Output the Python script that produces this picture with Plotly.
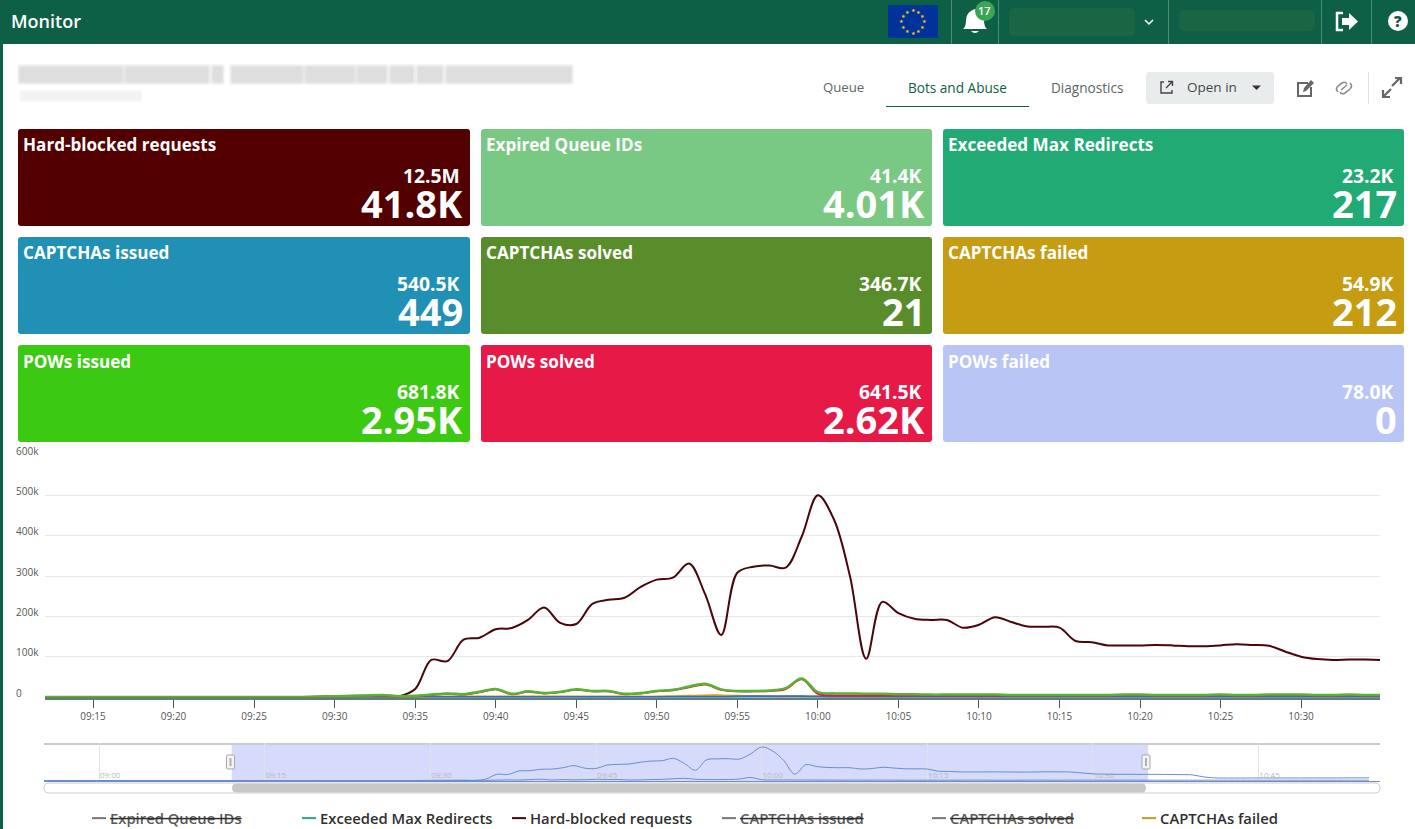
import re, math
import plotly.graph_objects as go

W, H = 1415, 829
DAY = "2024-01-01 "

# ---------- chart data (thousands) ----------
times = ["08:55", "09:20", "09:28",
         "09:30", "09:31", "09:32", "09:33", "09:34", "09:35", "09:36", "09:37", "09:38", "09:39",
         "09:40", "09:41", "09:42", "09:43", "09:44", "09:45", "09:46", "09:47", "09:48", "09:49",
         "09:50", "09:51", "09:52", "09:53", "09:54", "09:55", "09:56", "09:57", "09:58", "09:59",
         "10:00", "10:01", "10:02", "10:03", "10:04", "10:05", "10:06", "10:07", "10:08", "10:09",
         "10:10", "10:11", "10:12", "10:13", "10:14", "10:15", "10:16", "10:17", "10:18", "10:19",
         "10:20", "10:21", "10:22", "10:23", "10:24", "10:25", "10:26", "10:27", "10:28", "10:29",
         "10:30", "10:31", "10:32", "10:33", "10:34", "10:35",
         "10:36", "10:38", "10:39", "10:40", "10:41", "10:45", "10:50", "10:55"]
hard_blocked = [0, 0, 0,
                1, 1, 1, 1, 2, 20, 92, 89, 142, 147,
                168, 171, 191, 222, 184, 181, 231, 241, 246, 273,
                291, 296, 331, 255, 154, 308, 323, 326, 321, 398,
                500, 440, 298, 95, 236, 208, 194, 191, 191, 172,
                179, 198, 186, 175, 174, 172, 139, 136, 128, 128,
                128, 129, 128, 126, 126, 128, 131, 129, 127, 113,
                100, 94, 92, 93, 93, 92,
                92, 88, 84, 55, 40, 38, 38, 40]
pows_issued = [0, 0, 0,
               2, 3, 4, 5, 2, 3, 6, 9, 7, 13,
               20, 8, 14, 10, 13, 19, 15, 15, 8, 10,
               15, 18, 26, 33, 19, 15, 15, 16, 22, 46,
               12, 9, 9, 8, 8, 7, 7, 6, 6, 6,
               6, 6, 5, 5, 5, 5, 5, 5, 5, 6,
               6, 5, 5, 5, 5, 6, 5, 5, 6, 6,
               6, 5, 5, 6, 5, 5,
               5, 5, 5, 5, 5, 5, 5, 5]
pows_solved = [0, 0, 0,
               1, 2, 3, 4, 1, 2, 5, 8, 6, 12,
               19, 7, 13, 9, 12, 18, 14, 14, 7, 9,
               14, 17, 24, 31, 18, 14, 14, 15, 20, 44,
               8, 4, 4, 4, 4, 4, 4, 4, 4, 4,
               4, 4, 4, 4, 4, 4, 4, 4, 4, 5,
               5, 4, 4, 4, 4, 5, 4, 4, 5, 5,
               5, 4, 4, 5, 4, 4,
               4, 4, 4, 4, 4, 4, 4, 4]
captchas_failed = [0, 0, 0,
                   0, 0, 0, 0, 0, 0, 1, 1, 1, 1,
                   1, 1, 1, 1, 1, 1, 1, 1, 1, 1,
                   1, 2, 3, 4, 4, 3, 2, 1, 1, 1,
                   1, 1, 1, 1, 1, 1, 1, 1, 1, 1,
                   1, 1, 1, 1, 1, 1, 1, 1, 1, 1,
                   1, 1, 1, 1, 1, 1, 1, 1, 1, 1,
                   1, 1, 1, 1, 1, 1,
                   1, 1, 1, 1, 1, 1, 1, 1]
pows_failed = [0, 0, 0,
               0, 0, 0, 0, 0, 0, 0, 0, 0, 0,
               0, 0, 0, 0, 0, 0, 0, 0, 0, 0,
               0, 0, 0, 0, 0, 1, 2, 2, 2, 2,
               1, 0, 0, 0, 0, 0, 0, 0, 0, 0,
               0, 0, 0, 0, 0, 0, 0, 0, 0, 0,
               0, 0, 0, 0, 0, 0, 0, 0, 0, 0,
               0, 0, 0, 0, 0, 0,
               0, 0, 0, 0, 0, 0, 0, 0]

y_tick_values = [0, 100, 200, 300, 400, 500, 600]
y_tick_labels = ["0", "100k", "200k", "300k", "400k", "500k", "600k"]

# ---------- summary cards ----------
card_titles = ["Hard-blocked requests", "Expired Queue IDs", "Exceeded Max Redirects",
               "CAPTCHAs issued", "CAPTCHAs solved", "CAPTCHAs failed",
               "POWs issued", "POWs solved", "POWs failed"]
card_totals = ["12.5M", "41.4K", "23.2K", "540.5K", "346.7K", "54.9K", "681.8K", "641.5K", "78.0K"]
card_latest = ["41.8K", "4.01K", "217", "449", "21", "212", "2.95K", "2.62K", "0"]
card_colors = ["#530000", "#79c883", "#21aa74", "#2090b5", "#598d2b", "#c69c12",
               "#3bc912", "#e61947", "#b8c5f5"]

FONT = "Open Sans"
GREEN = "#0d5f45"


def px(x):
    return x / W


def py(y):
    return 1 - y / H


def path(d):
    parts = re.findall(r"[MLQCZ]|-?\d+\.?\d*", d)
    out, isx = [], True
    for t in parts:
        if t in "MLQCZ":
            out.append(t)
        else:
            v = float(t)
            out.append(f"{px(v) if isx else py(v):.5f}")
            isx = not isx
    return " ".join(out)


shapes, notes = [], []


def add_path(d, fill="rgba(0,0,0,0)", line=None, width=0, layer="below"):
    shapes.append(dict(type="path", xref="paper", yref="paper", path=path(d), fillcolor=fill,
                       line=dict(color=line or "rgba(0,0,0,0)", width=width), layer=layer))


def rrect(x0, y0, x1, y1, r, fill, line=None, width=0, layer="below"):
    add_path(f"M{x0+r} {y0} L{x1-r} {y0} Q{x1} {y0} {x1} {y0+r} L{x1} {y1-r} Q{x1} {y1} {x1-r} {y1} "
             f"L{x0+r} {y1} Q{x0} {y1} {x0} {y1-r} L{x0} {y0+r} Q{x0} {y0} {x0+r} {y0} Z",
             fill, line, width, layer)


def rect(x0, y0, x1, y1, fill, layer="below"):
    shapes.append(dict(type="rect", xref="paper", yref="paper", x0=px(x0), x1=px(x1), y0=py(y1), y1=py(y0),
                       fillcolor=fill, line=dict(width=0), layer=layer))


def circle(cx, cy, r, fill, layer="above"):
    shapes.append(dict(type="circle", xref="paper", yref="paper", x0=px(cx-r), x1=px(cx+r), y0=py(cy+r),
                       y1=py(cy-r), fillcolor=fill, line=dict(width=0), layer=layer))


def text(x, y, s, size, color, anchor="left", weight=400, family=FONT):
    notes.append(dict(xref="paper", yref="paper", x=px(x), y=py(y), text=s, showarrow=False,
                      xanchor=anchor, yanchor="middle", align=anchor,
                      font=dict(family=family, size=size, color=color, weight=weight),
                      borderpad=0, borderwidth=0))


# header
rect(0, 0, W, 44, GREEN)
rect(0, 44, 3, H, GREEN)
text(11, 21, "Monitor", 18, "#ffffff", weight=600)
rect(888, 5, 938, 38, "#003399")
for i in range(12):
    a = math.pi * 2 * i / 12
    text(913 + 11.5 * math.cos(a), 21.5 + 11.5 * math.sin(a), "★", 5, "#ffcc00", anchor="center", family="DejaVu Sans")
for x in (951, 998, 1168, 1321, 1371):
    rect(x, 0, x + 1, 44, "rgba(255,255,255,0.28)")
add_path("M975 9 Q966 12 966 20 Q966 27 963 29 L987 29 Q984 27 984 20 Q984 12 975 9 Z M971 31 L979 31 Q975 35 971 31 Z",
         "#ffffff", layer="above")
circle(985, 11, 10, "#3aa655")
text(985, 11, "17", 11, "#ffffff", anchor="center", weight=600)
rrect(1009, 8, 1135, 36, 6, "#1a6543")
add_path("M1145 20 L1149 24 L1153 20", line="#ffffff", width=1.5)
rrect(1179, 10, 1315, 31, 6, "#1a6543")
add_path("M1343 13 L1337 13 L1337 30 L1343 30", line="#ffffff", width=2.5)
add_path("M1342 18 L1349 18 L1349 13 L1358 21.5 L1349 30 L1349 25 L1342 25 Z", "#ffffff")
circle(1398, 21, 10, "#ffffff")
text(1398, 21, "?", 15, GREEN, anchor="center", weight=800)

# blurred page title: soft word-shaped smudges
for a, b in ((20, 122), (126, 208), (213, 222), (232, 302), (306, 354), (358, 386), (391, 413), (418, 442), (447, 571)):
    for i in range(4):
        rrect(a - i, 67 - i, b + i, 82 + i, 3, "rgba(150,150,150,0.085)")
for i in range(3):
    rrect(21 - i, 92 - i, 141 + i, 100 + i, 3, "rgba(170,170,170,0.05)")

# tabs
text(844, 87, "Queue", 13.2, "#5d6664", anchor="center", weight=500)
text(957.5, 87, "Bots and Abuse", 13.6, GREEN, anchor="center", weight=500)
rect(886, 106, 1029, 107, GREEN)
text(1087.5, 87, "Diagnostics", 13.6, "#5d6664", anchor="center", weight=500)
rrect(1146, 72, 1274, 104, 3, "#e9ecec")
add_path("M1164 82 L1161 82 L1161 93 L1172 93 L1172 90", line="#444", width=1.4)
add_path("M1166 88 L1172 82 M1168 81.5 L1172.5 81.5 L1172.5 86", line="#444", width=1.4)
text(1212, 87, "Open in", 13.5, "#3f4a47", anchor="center", weight=500)
add_path("M1252 85.5 L1261 85.5 L1256.5 90 Z", "#333")
add_path("M1308 83 L1298 83 L1298 96 L1311 96 L1311 87", line="#666", width=2)
add_path("M1303 92 L1304 88 L1311 80 L1314 83 L1306 91 Z", "#666")
add_path("M1338 92 Q1335 89 1338 86 L1342 83 Q1345 81 1347 84 M1350 83 Q1353 86 1350 89 L1345 93 Q1342 95 1340 92",
         line="#8a8f8e", width=1.6)
add_path("M1341 90 L1347 85", line="#8a8f8e", width=1.6)
rect(1368, 72, 1369, 104, "#e2e4e4")
add_path("M1392 86 L1400 78 M1395 78 L1401 78 L1401 84", line="#666", width=2.2)
add_path("M1391 89 L1384 96 M1383 90 L1383 97 L1390 97", line="#666", width=2.2)

# cards
cols = [(18, 470), (481, 932), (943, 1404)]
rows = [(129, 226), (237, 334), (345, 442)]
for i, title in enumerate(card_titles):
    x0, x1 = cols[i % 3]
    y0, y1 = rows[i // 3]
    rrect(x0, y0, x1, y1, 3, card_colors[i])
    text(x0 + 5, y0 + 16, title, 17.1, "#ffffff", weight=700)
    text(x1 - 10, y0 + 46, card_totals[i], 19.3, "#ffffff", anchor="right", weight=700)
    text(x1 - 7, y0 + 74, card_latest[i], 38, "#ffffff", anchor="right", weight=700)

# navigator decoration
selection_start, selection_end = DAY + "09:12", DAY + "10:35"
shapes.append(dict(type="rect", xref="x2", yref="paper", x0=selection_start, x1=selection_end,
                   y0=py(781), y1=py(744), fillcolor="rgba(102,120,240,0.27)", line=dict(width=0), layer="below"))
rect(44, 743, 1380, 745, "#cccccc")
rrect(44, 783, 1380, 793, 5, "#ffffff", "#cccccc", 1)
rrect(232, 783.5, 1146, 792.5, 4.5, "#c8c8c8")
for x in (230.5, 1146):
    rrect(x - 4, 755, x + 4, 769, 1, "#f4f4f4", "#a8a8a8", 1, layer="above")
    rect(x - 1, 758, x + 1, 766, "#b0b0b0", layer="above")

# ---------- traces ----------
x_dates = [DAY + t for t in times]


def scaled(v):
    return [a * 1000 for a in v]


fig = go.Figure()
last_time = [DAY + "10:34"]


def legend_only(name, value):
    """Series switched off in the legend: keeps its swatch, draws no line."""
    fig.add_trace(go.Scatter(x=last_time, y=[value], mode="lines", line=dict(color="#777777", width=2),
                             name=f'<s><span style="color:#5a5a5a">{name}</span></s>', hoverinfo="skip"))


legend_only("Expired Queue IDs", 4010)
fig.add_trace(go.Scatter(x=x_dates, y=[217] * len(x_dates), mode="lines", name="Exceeded Max Redirects",
                         line=dict(color="#21aa74", width=2, shape="spline")))
fig.add_trace(go.Scatter(x=x_dates, y=scaled(hard_blocked), mode="lines", name="Hard-blocked requests",
                         line=dict(color="#4a0509", width=2, shape="spline")))
legend_only("CAPTCHAs issued", 449)
legend_only("CAPTCHAs solved", 21)
fig.add_trace(go.Scatter(x=x_dates, y=scaled(captchas_failed), mode="lines", name="CAPTCHAs failed",
                         line=dict(color="#c69c12", width=2, shape="spline")))
fig.add_trace(go.Scatter(x=x_dates, y=scaled(pows_failed), mode="lines", name="POWs failed", showlegend=False,
                         line=dict(color="#3f66cc", width=2, shape="spline")))
fig.add_trace(go.Scatter(x=x_dates, y=scaled(pows_solved), mode="lines", name="POWs solved", showlegend=False,
                         line=dict(color="#e61947", width=2, shape="spline")))
fig.add_trace(go.Scatter(x=x_dates, y=scaled(pows_issued), mode="lines", name="POWs issued", showlegend=False,
                         line=dict(color="#55b52e", width=2.5, shape="spline")))

# navigator miniature
for series in (hard_blocked, pows_issued):
    fig.add_trace(go.Scatter(x=x_dates, y=scaled(series), mode="lines", xaxis="x2", yaxis="y2", showlegend=False,
                             hoverinfo="skip", line=dict(color="#6b8fc9", width=1, shape="spline")))

fig.update_layout(
    width=W, height=H, margin=dict(l=0, r=0, t=0, b=0, pad=0, autoexpand=False),
    paper_bgcolor="#ffffff", plot_bgcolor="rgba(0,0,0,0)",
    font=dict(family=FONT, color="#555555", size=10),
    shapes=shapes, annotations=notes, hovermode=False,
    xaxis=dict(domain=[px(45), px(1380)], anchor="y", type="date",
               range=[DAY + "09:12:01", DAY + "10:34:54"],
               dtick=300000, tick0=DAY + "09:15", tickformat="%H:%M", ticks="outside", ticklen=8, tickwidth=1,
               tickcolor="#555555", showgrid=False, zeroline=False, showline=True, linecolor="#5f8078", linewidth=2,
               tickfont=dict(size=10, color="#555555", family=FONT)),
    yaxis=dict(domain=[py(697.5), py(455)], range=[-1200, 600000], anchor="free", position=px(15), side="right",
               tickvals=scaled(y_tick_values), ticktext=y_tick_labels, ticks="", showline=False, zeroline=False,
               showgrid=True, gridcolor="#e8e8e8", gridwidth=1, ticklabelshift=-4,
               tickfont=dict(size=10, color="#555555", family=FONT)),
    xaxis2=dict(domain=[px(44), px(1380)], anchor="y2", type="date",
                range=[DAY + "08:55", DAY + "10:56"], dtick=900000, tick0=DAY + "09:00", tickformat="%H:%M",
                ticks="", showgrid=True, gridcolor="#e2e2e2", gridwidth=1, zeroline=False,
                showline=True, linecolor="#6b8fc9", linewidth=1,
                ticklabelposition="inside", ticklabelshift=11,
                tickfont=dict(size=8, color="#b9b9b9", family=FONT)),
    yaxis2=dict(domain=[py(781), py(743)], range=[-7000, 560000], anchor="x2", visible=False),
    legend=dict(orientation="h", x=px(70), y=py(802), xanchor="left", yanchor="top",
                entrywidth=165, entrywidthmode="pixels", tracegroupgap=0, itemwidth=30,
                font=dict(family=FONT, size=14.8, color="#2f2f2f", weight=600),
                bgcolor="rgba(0,0,0,0)", borderwidth=0, itemclick=False, itemdoubleclick=False),
    showlegend=True,
)

post = """
document.body.style.margin='0';document.body.style.overflow='hidden';
document.querySelectorAll('.legendlines path').forEach(function(p){p.setAttribute('d','M22,0h14');});
"""
fig.write_html("out.html", config={"displayModeBar": False}, post_script=post)
